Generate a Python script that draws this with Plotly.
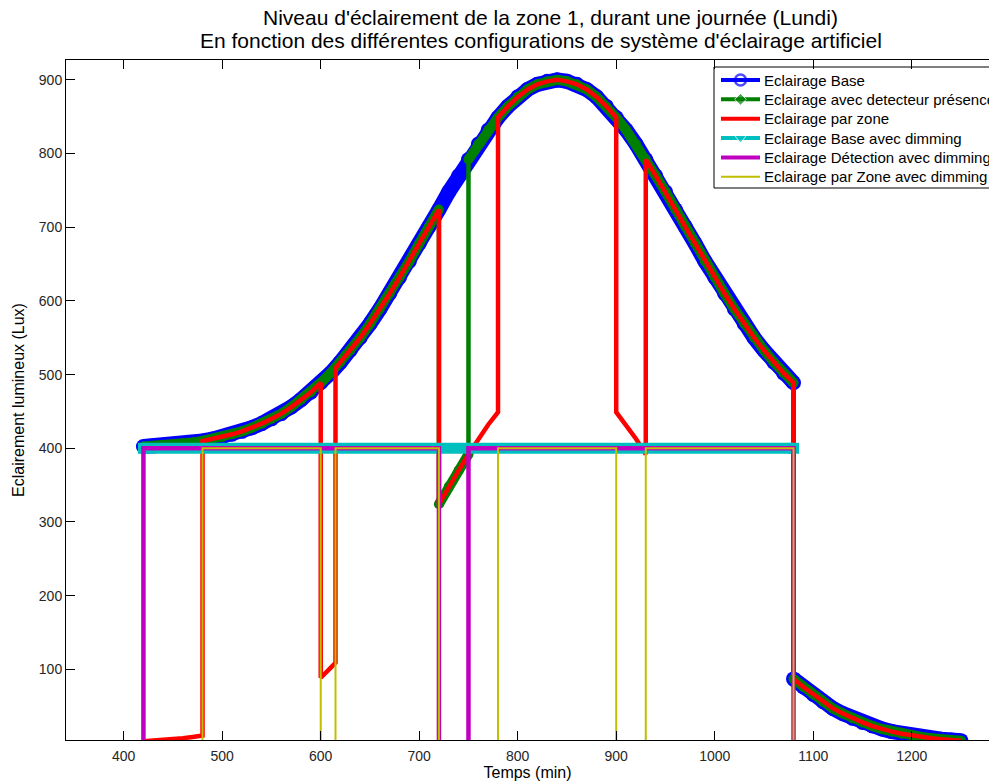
import plotly.graph_objects as go

# ---------------- data ----------------
# Eclairage Base : daylight + full artificial lighting until 1080 min, daylight only afterwards
BASE_T = list(range(420, 1081, 10)) + list(range(1080, 1251, 10))
BASE_LUX = [402.5, 403, 404, 405, 406.5, 408, 410, 412.5, 415.5, 419, 423, 428, 433.5, 440,
            447, 456, 466, 476, 489, 502, 517, 533, 550, 569, 589, 610, 632, 654, 678, 701,
            724, 748, 770, 792, 813, 832, 849, 864, 877, 887, 894, 898, 900, 898, 894, 887,
            877, 864, 849, 832, 813, 792, 770, 748, 724, 701, 678, 654, 632, 610, 589, 569,
            550, 533, 517, 502, 489,
            87, 76, 66, 56, 47, 40, 33.5, 28, 23, 19, 15.5, 12.6, 10.2, 8.2, 6.5, 5.2, 4.1, 3.2]

# Eclairage avec detecteur presence
DET_T = (list(range(420, 721, 10)) + [720, 730, 740, 750] + list(range(750, 1081, 10))
         + list(range(1080, 1251, 10)))
DET_LUX = [402.5, 403, 404, 405, 406.5, 408, 410, 412.5, 415.5, 419, 423, 428, 433.5, 440,
           447, 456, 466, 476, 489, 502, 517, 533, 550, 569, 589, 610, 632, 654, 678, 701, 724,
           324, 348, 370, 392,
           792, 813, 832, 849, 864, 877, 887, 894, 898, 900, 898, 894, 887, 877, 864, 849, 832,
           813, 792, 770, 748, 724, 701, 678, 654, 632, 610, 589, 569, 550, 533, 517, 502, 489,
           87, 76, 66, 56, 47, 40, 33.5, 28, 23, 19, 15.5, 12.6, 10.2, 8.2, 6.5, 5.2, 4.1, 3.2]

# Eclairage par zone
ZONE_T = ([420, 430, 440, 450, 460, 470, 480]
          + [480, 490, 500, 510, 520, 530, 540, 550, 560, 570, 580, 590, 600]
          + [600, 610, 615]
          + [615, 620, 630, 640, 650, 660, 670, 680, 690, 700, 710, 720]
          + [720, 730, 740, 750, 760, 770, 780]
          + [780, 790, 800, 810, 820, 830, 840, 850, 860, 870, 880, 890, 900]
          + [900, 910, 920, 930]
          + [930, 940, 950, 960, 970, 980, 990, 1000, 1010, 1020, 1030, 1040, 1050, 1060,
             1070, 1080]
          + list(range(1080, 1251, 10)))
ZONE_LUX = ([2.5, 3.2, 4.1, 5.2, 6.5, 8.2, 10.2]
            + [410, 412.5, 415.5, 419, 423, 428, 433.5, 440, 447, 456, 466, 476, 489]
            + [88.6, 102, 109]
            + [509, 517, 533, 550, 569, 589, 610, 632, 654, 678, 701, 724]
            + [324, 348, 370, 392, 413, 432, 449]
            + [849, 864, 877, 887, 894, 898, 900, 898, 894, 887, 877, 864, 849]
            + [449, 432, 413, 392]
            + [792, 770, 748, 724, 701, 678, 654, 632, 610, 589, 569, 550, 533, 517, 502, 489]
            + [87, 76, 66, 56, 47, 40, 33.5, 28, 23, 19, 15.5, 12.6, 10.2, 8.2, 6.5, 5.2, 4.1, 3.2])

# Eclairage Base avec dimming
CYAN_T = [420, 1080]
CYAN_LUX = [400, 400]

# Eclairage Detection avec dimming
MAG_T = [420, 420, 720, 720, 750, 750, 1080, 1080, 1250]
MAG_LUX = [0, 400, 400, 0, 0, 400, 400, 0, 0]

# Eclairage par Zone avec dimming
YEL_T = [420, 480, 480, 600, 600, 615, 615, 720, 720, 780, 780, 900, 900, 930, 930, 1080, 1080, 1250]
YEL_LUX = [0, 0, 400, 400, 0, 0, 400, 400, 0, 0, 400, 400, 0, 0, 400, 400, 0, 0]

NAMES = ["Eclairage Base", "Eclairage avec detecteur présence", "Eclairage par zone",
         "Eclairage Base avec dimming", "Eclairage Détection avec dimming",
         "Eclairage par Zone avec dimming"]

TITLE_1 = "Niveau d'éclairement de la zone 1, durant une journée (Lundi)"
TITLE_2 = "En fonction des différentes configurations de système d'éclairage artificiel"

X_TICKS = [400, 500, 600, 700, 800, 900, 1000, 1100, 1200]
Y_TICKS = [100, 200, 300, 400, 500, 600, 700, 800, 900]

assert len(BASE_T) == len(BASE_LUX)
assert len(DET_T) == len(DET_LUX)
assert len(ZONE_T) == len(ZONE_LUX)

BLUE, GREEN, RED = "#0000ff", "#008000", "#ff0000"
CYAN, MAGENTA, YELLOW = "#00bfbf", "#bf00bf", "#bfbf00"
FONT = "Liberation Sans, Arial, Helvetica, sans-serif"

# ---------------- layout geometry (pixels) ----------------
W, H = 989, 783
L, R, T, B = 66, 0, 60, 43
pw = W - L - R
ph = H - T - B
PLOT_BOTTOM = H - B


def px_x(x):
    return (x - L) / pw


def px_y(y):
    return (PLOT_BOTTOM - y) / ph


fig = go.Figure()


def split_jumps(xs, ys):
    ox, oy = [], []
    for i, (a, b) in enumerate(zip(xs, ys)):
        if i > 0 and a == xs[i - 1]:
            ox.append(None)
            oy.append(None)
        ox.append(a)
        oy.append(b)
    return ox, oy


def band(xs, ys, color, width, symbol="circle"):
    bx, by = split_jumps(xs, ys)
    fig.add_trace(go.Scatter(x=bx, y=by, mode="lines+markers",
                             line=dict(color=color, width=width),
                             marker=dict(symbol=symbol, size=width, color=color,
                                         line=dict(width=0)),
                             showlegend=False, hoverinfo="skip"))


def thin(xs, ys, color, width, name):
    fig.add_trace(go.Scatter(x=xs, y=ys, mode="lines", name=name,
                             line=dict(color=color, width=width),
                             showlegend=False, hoverinfo="skip"))


band(BASE_T, BASE_LUX, BLUE, 15)
thin(BASE_T, BASE_LUX, BLUE, 4.5, NAMES[0])
band(DET_T, DET_LUX, GREEN, 10)
thin(DET_T, DET_LUX, GREEN, 4.5, NAMES[1])
thin(ZONE_T, ZONE_LUX, RED, 4.5, NAMES[2])
band(CYAN_T, CYAN_LUX, CYAN, 11, "square")
thin(CYAN_T, CYAN_LUX, CYAN, 4.5, NAMES[3])
thin(MAG_T, MAG_LUX, MAGENTA, 4.5, NAMES[4])
thin(YEL_T, YEL_LUX, YELLOW, 2, NAMES[5])

# ---------------- legend (MATLAB style box, cut by the right edge) ----------------
LEG_LEFT, LEG_TOP, LEG_BOTTOM = 714, 67, 188
ROW_Y0, ROW_PITCH = 80, 19.35
SYM_X0, SYM_X1, TEXT_X = 721, 760, 762
legend_styles = [
    (BLUE, 4, "circle-open", 11),
    (GREEN, 4, "diamond", 9),
    (RED, 4, None, 0),
    (CYAN, 4, "triangle-down", 10),
    (MAGENTA, 4, None, 0),
    (YELLOW, 2, None, 0),
]

shapes = [dict(type="rect", xref="paper", yref="paper",
               x0=px_x(LEG_LEFT), x1=px_x(W + 60), y0=px_y(LEG_BOTTOM), y1=px_y(LEG_TOP),
               line=dict(color="#000000", width=1), fillcolor="white", layer="below")]
annotations = [
    dict(text=TITLE_1, x=px_x(550), y=px_y(17), xref="paper", yref="paper",
         xanchor="center", yanchor="middle", showarrow=False,
         font=dict(family=FONT, size=21, color="#000000")),
    dict(text=TITLE_2, x=px_x(541), y=px_y(40), xref="paper", yref="paper",
         xanchor="center", yanchor="middle", showarrow=False,
         font=dict(family=FONT, size=21, color="#000000")),
]
for i, (name, (col, lw, sym, msz)) in enumerate(zip(NAMES, legend_styles)):
    yc = ROW_Y0 + ROW_PITCH * i
    xmid = (SYM_X0 + SYM_X1) / 2
    marker = dict(size=[0, msz, 0], color=col, symbol=sym or "circle")
    if sym == "circle-open":
        marker["line"] = dict(width=2.5, color=col)
    fig.add_trace(go.Scatter(x=[SYM_X0, xmid, SYM_X1], y=[yc, yc, yc],
                             xaxis="x2", yaxis="y2",
                             mode="lines+markers" if sym else "lines",
                             line=dict(color=col, width=lw), marker=marker,
                             showlegend=False, hoverinfo="skip"))
    annotations.append(dict(text=name, x=px_x(TEXT_X), y=px_y(yc), xref="paper", yref="paper",
                            xanchor="left", yanchor="middle", showarrow=False,
                            font=dict(family=FONT, size=15, color="#000000")))

fig.update_layout(
    width=W, height=H, autosize=False,
    margin=dict(l=L, r=R, t=T, b=B, pad=0),
    paper_bgcolor="white", plot_bgcolor="white",
    font=dict(family=FONT, color="#000000", size=14),
    showlegend=False,
    annotations=annotations,
    shapes=shapes,
    xaxis=dict(range=[341.4, 341.4 + pw / 0.985], tickvals=X_TICKS,
               ticks="inside", ticklen=9, tickcolor="#000000", tickwidth=1,
               showline=True, linecolor="#000000", linewidth=1, mirror="ticks",
               showgrid=False, zeroline=False, ticklabelstandoff=3,
               tickfont=dict(family=FONT, size=14, color="#262626"),
               title=dict(text="Temps (min)", standoff=3,
                          font=dict(family=FONT, size=16, color="#000000"))),
    yaxis=dict(range=[4.1, 927], tickvals=Y_TICKS,
               ticks="inside", ticklen=9, tickcolor="#000000", tickwidth=1,
               showline=True, linecolor="#000000", linewidth=1, mirror=False,
               showgrid=False, zeroline=False,
               tickfont=dict(family=FONT, size=14, color="#262626"),
               title=dict(text="Eclairement lumineux (Lux)", standoff=10,
                          font=dict(family=FONT, size=16, color="#000000"))),
    # pixel-space overlay used only for the legend symbols
    xaxis2=dict(overlaying="x", anchor="y2", range=[L, W], visible=False, fixedrange=True),
    yaxis2=dict(overlaying="y", anchor="x2", range=[PLOT_BOTTOM, T], visible=False,
                fixedrange=True),
)

fig.write_html("out.html",
               config={"displayModeBar": False},
               post_script="document.body.style.margin='0px';"
                           "document.body.style.overflow='hidden';")
